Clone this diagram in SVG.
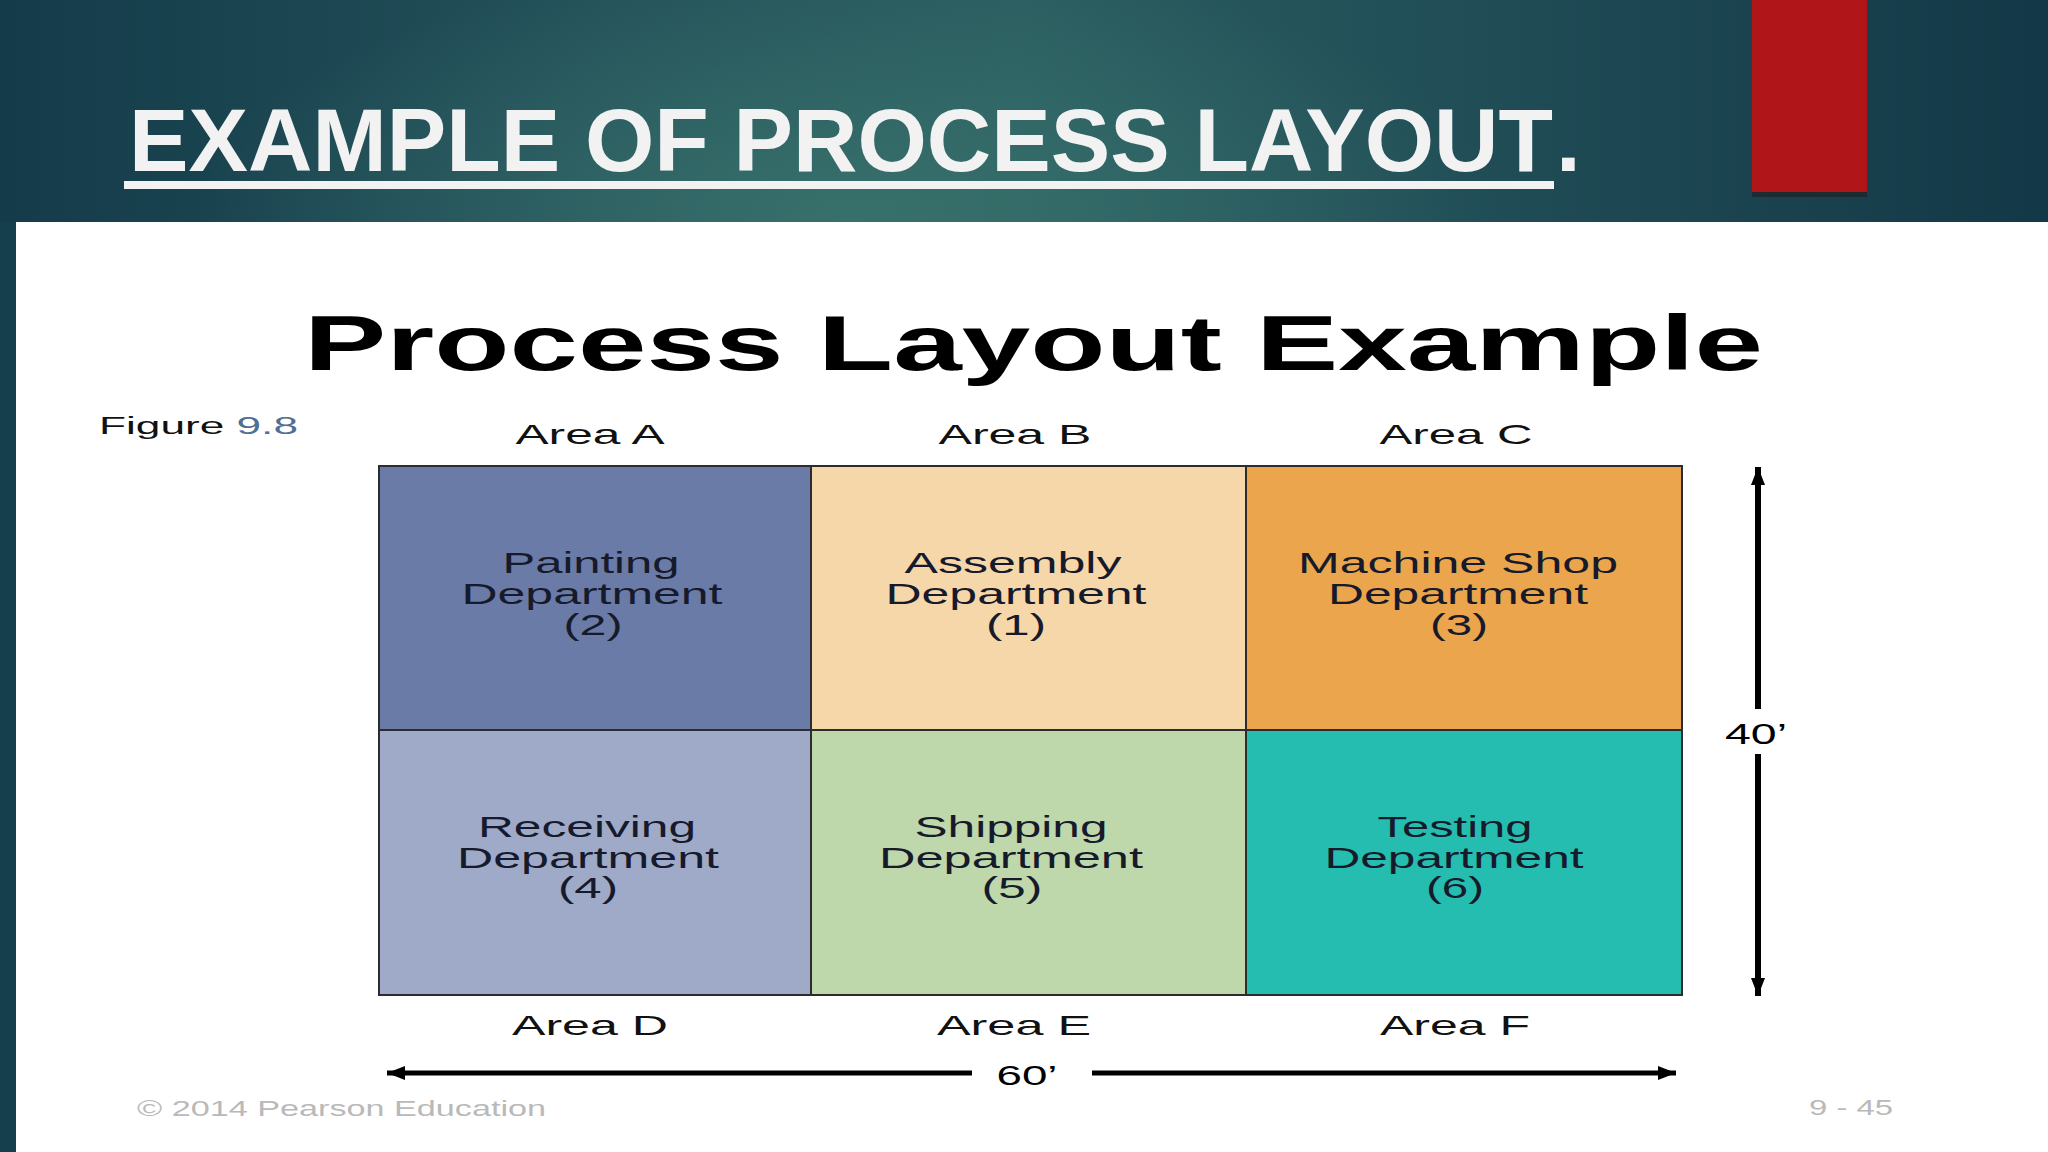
<svg xmlns="http://www.w3.org/2000/svg" width="2048" height="1152" viewBox="0 0 2048 1152">
  <defs>
    <linearGradient id="hdr" x1="0" y1="0" x2="1" y2="0">
      <stop offset="0" stop-color="#143b4a"/>
      <stop offset="0.3" stop-color="#24525a"/>
      <stop offset="0.5" stop-color="#2a5d60"/>
      <stop offset="0.75" stop-color="#1f4b55"/>
      <stop offset="1" stop-color="#133847"/>
    </linearGradient>
    <radialGradient id="glow" cx="850" cy="215" r="650" gradientUnits="userSpaceOnUse" gradientTransform="translate(850 215) scale(1 0.4) translate(-850 -215)">
      <stop offset="0" stop-color="#3d7870" stop-opacity="0.75"/>
      <stop offset="1" stop-color="#3d7870" stop-opacity="0"/>
    </radialGradient>
    <marker id="head" viewBox="0 0 18 14" refX="18" refY="7" markerWidth="18" markerHeight="14" markerUnits="userSpaceOnUse" orient="auto">
      <path d="M0,0 L18,7 L0,14 z" fill="#000"/>
    </marker>
    <style>
      .cell { stroke: #2b2b30; stroke-width: 2; }
      .lbl { font-family: "Liberation Sans", Arial, sans-serif; font-size: 29px; fill: #161a2a; text-anchor: middle; }
      .area { font-family: "Liberation Sans", Arial, sans-serif; font-size: 28px; fill: #111; text-anchor: middle; }
      .dim { stroke: #000; fill: none; }
      .foot { font-family: "Liberation Sans", Arial, sans-serif; font-size: 22px; fill: #b9b9b9; }
      .ttl { font-family: "Liberation Sans", Arial, sans-serif; font-weight: bold; font-size: 89px; fill: #f2f2f2; }
    </style>
  </defs>

  <!-- slide background -->
  <rect x="0" y="0" width="2048" height="1152" fill="#163f4d"/>
  <rect x="0" y="0" width="2048" height="222" fill="url(#hdr)"/>
  <rect x="0" y="0" width="2048" height="222" fill="url(#glow)"/>
  <rect x="1752" y="190" width="115" height="7" fill="#1e2226" opacity="0.7"/>
  <rect x="1752" y="0" width="115" height="192" fill="#b01619"/>

  <g id="slide-title">
    <text class="ttl" x="129" y="171" textLength="1424" lengthAdjust="spacingAndGlyphs">EXAMPLE OF PROCESS LAYOUT</text>
    <text class="ttl" x="1556" y="171">.</text>
    <rect x="124" y="181" width="1430" height="8" fill="#f2f2f2"/>
  </g>

  <!-- white content panel -->
  <rect x="16" y="222" width="2032" height="930" fill="#ffffff"/>

  <g id="heading">
    <text x="304" y="370" font-family="Liberation Sans, Arial, sans-serif" font-weight="bold" font-size="77" fill="#000" textLength="1459" lengthAdjust="spacingAndGlyphs">Process Layout Example</text>
  </g>

  <g id="figure-label">
    <text x="99" y="434" font-family="Liberation Sans, Arial, sans-serif" font-size="23" fill="#111" textLength="199" lengthAdjust="spacingAndGlyphs">Figure <tspan fill="#4f6f93">9.8</tspan></text>
  </g>

  <g id="area-labels">
    <text class="area" x="590" y="444" textLength="149" lengthAdjust="spacingAndGlyphs">Area A</text>
    <text class="area" x="1015" y="444" textLength="153" lengthAdjust="spacingAndGlyphs">Area B</text>
    <text class="area" x="1456" y="444" textLength="153" lengthAdjust="spacingAndGlyphs">Area C</text>
    <text class="area" x="590" y="1035" textLength="156" lengthAdjust="spacingAndGlyphs">Area D</text>
    <text class="area" x="1014" y="1035" textLength="154" lengthAdjust="spacingAndGlyphs">Area E</text>
    <text class="area" x="1455" y="1035" textLength="150" lengthAdjust="spacingAndGlyphs">Area F</text>
  </g>

  <g id="painting">
    <rect class="cell" x="379" y="466" width="432" height="264" fill="#6a7ba8"/>
    <text class="lbl" x="591" y="573" textLength="177" lengthAdjust="spacingAndGlyphs">Painting</text>
    <text class="lbl" x="592" y="604" textLength="261" lengthAdjust="spacingAndGlyphs">Department</text>
    <text class="lbl" x="593" y="635" textLength="59" lengthAdjust="spacingAndGlyphs">(2)</text>
  </g>
  <g id="assembly">
    <rect class="cell" x="811" y="466" width="435" height="264" fill="#f6d7aa"/>
    <text class="lbl" x="1013" y="573" textLength="217" lengthAdjust="spacingAndGlyphs">Assembly</text>
    <text class="lbl" x="1016" y="604" textLength="261" lengthAdjust="spacingAndGlyphs">Department</text>
    <text class="lbl" x="1016" y="635" textLength="60" lengthAdjust="spacingAndGlyphs">(1)</text>
  </g>
  <g id="machine-shop">
    <rect class="cell" x="1246" y="466" width="436" height="264" fill="#eba54c"/>
    <text class="lbl" x="1458" y="573" textLength="320" lengthAdjust="spacingAndGlyphs">Machine Shop</text>
    <text class="lbl" x="1458" y="604" textLength="260" lengthAdjust="spacingAndGlyphs">Department</text>
    <text class="lbl" x="1459" y="635" textLength="58" lengthAdjust="spacingAndGlyphs">(3)</text>
  </g>
  <g id="receiving">
    <rect class="cell" x="379" y="730" width="432" height="265" fill="#9eaac8"/>
    <text class="lbl" x="587" y="837" textLength="218" lengthAdjust="spacingAndGlyphs">Receiving</text>
    <text class="lbl" x="588" y="868" textLength="262" lengthAdjust="spacingAndGlyphs">Department</text>
    <text class="lbl" x="588" y="898" textLength="60" lengthAdjust="spacingAndGlyphs">(4)</text>
  </g>
  <g id="shipping">
    <rect class="cell" x="811" y="730" width="435" height="265" fill="#bed7ab"/>
    <text class="lbl" x="1011" y="837" textLength="193" lengthAdjust="spacingAndGlyphs">Shipping</text>
    <text class="lbl" x="1011" y="868" textLength="264" lengthAdjust="spacingAndGlyphs">Department</text>
    <text class="lbl" x="1012" y="898" textLength="61" lengthAdjust="spacingAndGlyphs">(5)</text>
  </g>
  <g id="testing">
    <rect class="cell" x="1246" y="730" width="436" height="265" fill="#25bdb0"/>
    <text class="lbl" x="1455" y="837" textLength="155" lengthAdjust="spacingAndGlyphs">Testing</text>
    <text class="lbl" x="1454" y="868" textLength="259" lengthAdjust="spacingAndGlyphs">Department</text>
    <text class="lbl" x="1455" y="898" textLength="58" lengthAdjust="spacingAndGlyphs">(6)</text>
  </g>

  <g id="connectors">
    <line class="dim" x1="1758" y1="709" x2="1758" y2="467" stroke-width="6" marker-end="url(#head)"/>
    <line class="dim" x1="1758" y1="754" x2="1758" y2="996" stroke-width="6" marker-end="url(#head)"/>
    <line class="dim" x1="972" y1="1073" x2="387" y2="1073" stroke-width="5" marker-end="url(#head)"/>
    <line class="dim" x1="1092" y1="1073" x2="1676" y2="1073" stroke-width="5" marker-end="url(#head)"/>
  </g>

  <g id="dimensions">
    <text x="1756" y="744" font-family="Liberation Sans, Arial, sans-serif" font-size="29" fill="#000" text-anchor="middle" textLength="62" lengthAdjust="spacingAndGlyphs">40’</text>
    <text x="1027" y="1085" font-family="Liberation Sans, Arial, sans-serif" font-size="28" fill="#000" text-anchor="middle" textLength="61" lengthAdjust="spacingAndGlyphs">60’</text>
  </g>

  <g id="footer">
    <text class="foot" x="137" y="1116" textLength="409" lengthAdjust="spacingAndGlyphs">© 2014 Pearson Education</text>
    <text class="foot" x="1809" y="1115" textLength="84" lengthAdjust="spacingAndGlyphs">9 - 45</text>
  </g>
</svg>
